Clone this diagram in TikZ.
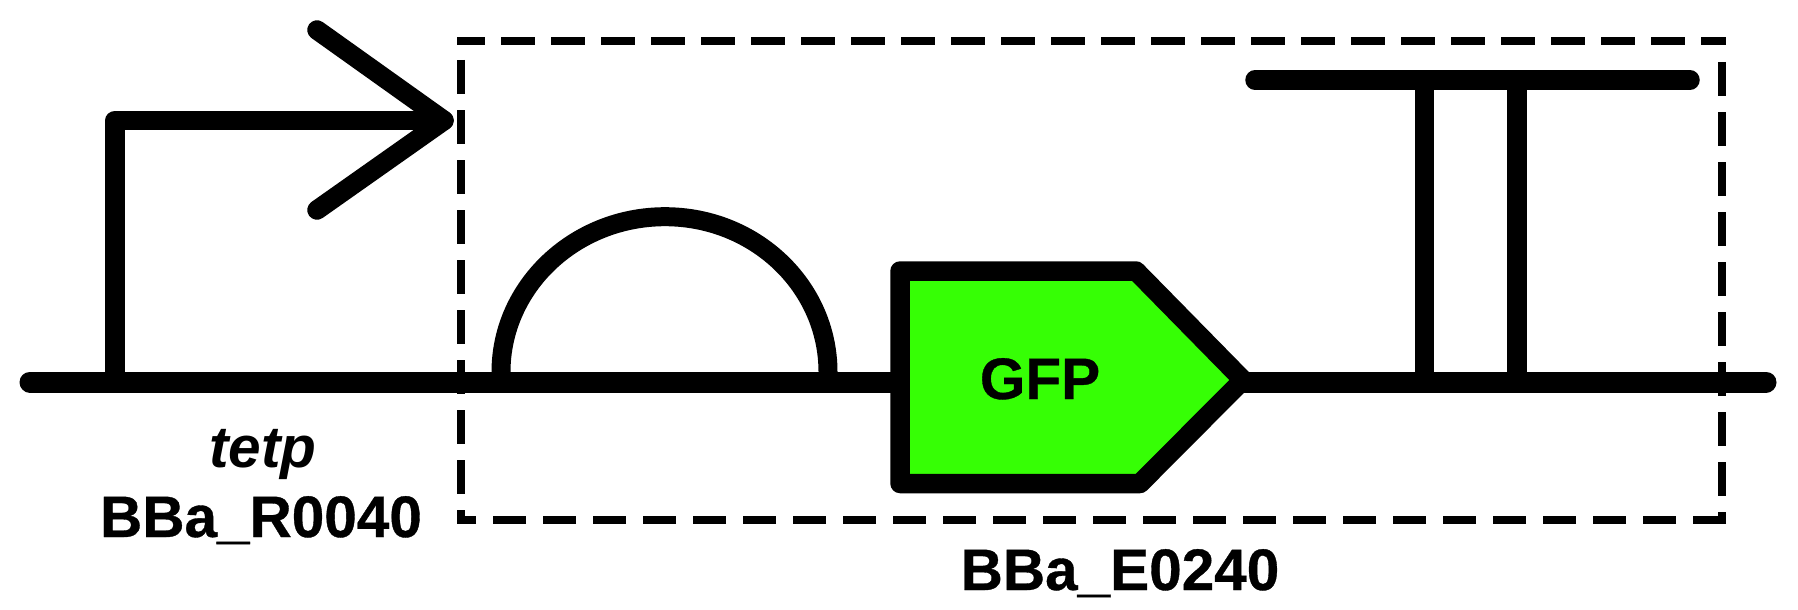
\documentclass[tikz,border=0pt]{standalone}
\usepackage{fontspec}
\setmainfont[BoldFeatures={FakeBold=0.6}]{Liberation Sans}
\definecolor{gfpgreen}{RGB}{54,255,5}
\tikzset{
  x=1pt,y=-1pt,
  glyph/.style={draw=black,line width=19.5pt,line join=round,line cap=round},
  stem/.style={draw=black,line width=19.5pt,line cap=butt},
  backbone/.style={draw=black,line width=21pt,line cap=round},
  dashline/.style={draw=black,line width=8.5pt,line cap=butt,dash pattern=on 33.5pt off 16.5pt},
  lab/.style={inner sep=0pt,anchor=base,font=\fontsize{58.5}{60}\selectfont\bfseries},
}
\begin{document}
\begin{tikzpicture}
\useasboundingbox (0,0) rectangle (1798,610);
\fill[white] (0,0) rectangle (1798,610);
% anchor points
\coordinate (bbL) at (30,382);
\coordinate (bbR) at (1766,382);
\coordinate (promFoot) at (115,382);
\coordinate (promCorner) at (115,120.5);
\coordinate (promTip) at (444,120.5);
\coordinate (promUp) at (317,30);
\coordinate (promDown) at (317,210);
\coordinate (termL) at (1255,80);
\coordinate (termR) at (1690,80);
\coordinate (t1top) at (1424.5,80);
\coordinate (t1bot) at (1424.5,382);
\coordinate (t2top) at (1517,80);
\coordinate (t2bot) at (1517,382);
% backbone
\draw[backbone] (bbL) -- (bbR);
% dashed box
\coordinate (topA) at (457,41);
\coordinate (topB) at (1726,41);
\coordinate (rightA) at (1722,62);
\coordinate (rightB) at (1722,524);
\coordinate (botA) at (1726,520);
\coordinate (botB) at (457,520);
\coordinate (leftA) at (461,60);
\coordinate (leftB) at (461,524);
\draw[dashline,dash phase=6pt] (topA) -- (topB);
\draw[dashline] (rightA) -- (rightB);
\draw[dashline] (botA) -- (botB);
\draw[dashline] (leftA) -- (leftB);
% promoter
\draw[glyph] (promFoot) -- (promCorner) -- (promTip);
\draw[glyph] (promUp) -- (promTip) -- (promDown);
% RBS
\draw[draw=black,line width=19pt,line join=round,line cap=butt]
  (501,383) -- (501,372) .. controls (501,286.4) and (574.7,216.7) .. (665,216.7)
  .. controls (755.3,216.7) and (828,286.4) .. (828,372) -- (828,383) -- cycle;
% CDS
\draw[glyph,fill=gfpgreen] (900,271) -- (1136,271) -- (1243,380) -- (1140,483.5) -- (900,483.5) -- cycle;
\node[lab] (gfp) at (1040,399) {GFP};
% terminator
\draw[stem] (t1top) -- (t1bot);
\draw[stem] (t2top) -- (t2bot);
\draw[glyph] (termL) -- (termR);
% labels
\node[lab,font=\fontsize{58.5}{60}\selectfont\bfseries\itshape] (tetp) at (263,467) {tetp};
\node[lab] (r0040) at (261,537) {BBa\_R0040};
\node[lab] (e0240) at (1120,590) {BBa\_E0240};
\end{tikzpicture}
\end{document}
